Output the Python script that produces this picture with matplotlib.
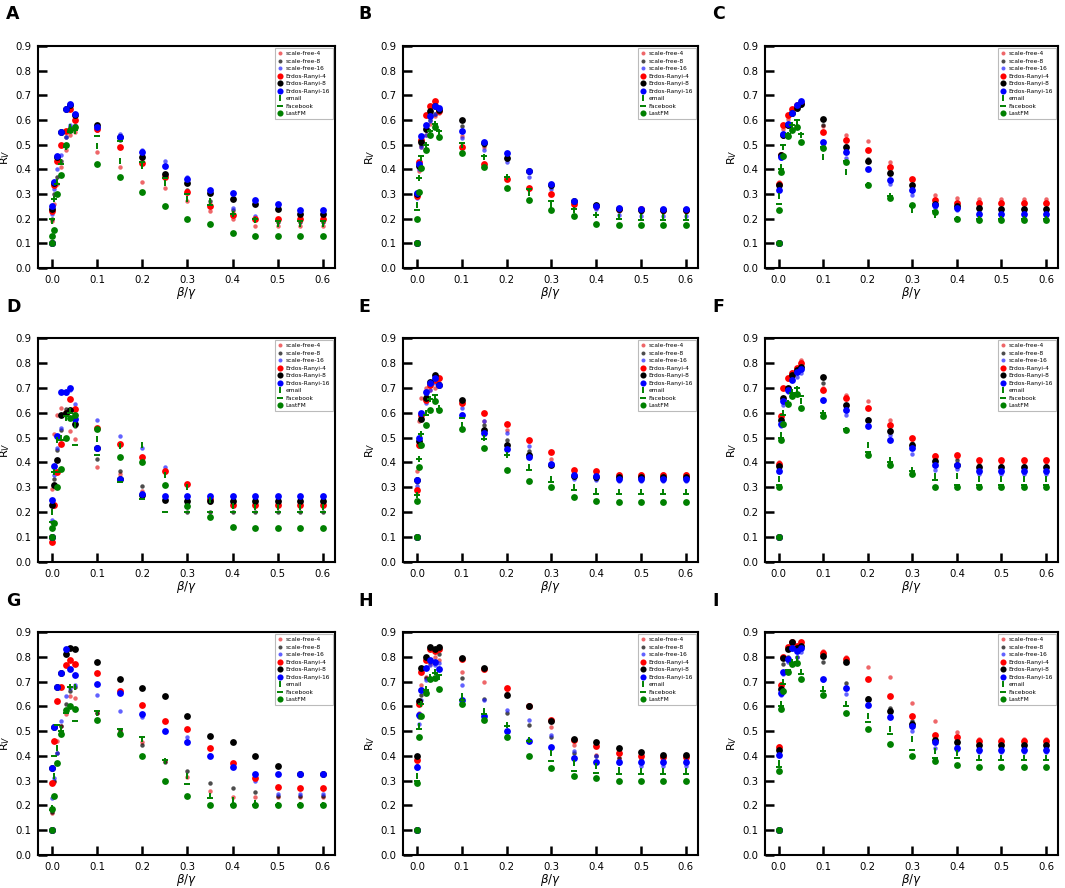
import matplotlib
matplotlib.use("Agg")
import matplotlib.pyplot as plt

X = [0, 0.001, 0.005, 0.01, 0.02, 0.03, 0.04, 0.05, 0.1, 0.15, 0.2, 0.25, 0.3, 0.35, 0.4, 0.45, 0.5, 0.55, 0.6]
SERIES = ["scale-free-4", "scale-free-8", "scale-free-16", "Erdos-Ranyi-4", "Erdos-Ranyi-8",
          "Erdos-Ranyi-16", "email", "Facebook", "LastFM"]
PANEL_LABELS = ["A", "B", "C", "D", "E", "F", "G", "H", "I"]
XTICKS = [0.0, 0.1, 0.2, 0.3, 0.4, 0.5, 0.6]
YTICKS = [0.0, 0.1, 0.2, 0.3, 0.4, 0.5, 0.6, 0.7, 0.8, 0.9]

A_sf4 = [0.1, 0.19, 0.26, 0.34, 0.41, 0.48, 0.54, 0.55, 0.47, 0.41, 0.35, 0.325, 0.27, 0.23, 0.20, 0.17, 0.17, 0.17, 0.17]
A_sf8 = [0.1, 0.20, 0.30, 0.37, 0.435, 0.53, 0.57, 0.57, 0.56, 0.52, 0.45, 0.38, 0.315, 0.27, 0.235, 0.20, 0.185, 0.185, 0.185]
A_sf16 = [0.1, 0.22, 0.32, 0.40, 0.46, 0.53, 0.58, 0.58, 0.565, 0.545, 0.48, 0.435, 0.37, 0.315, 0.245, 0.21, 0.195, 0.195, 0.195]
A_er4 = [0.1, 0.23, 0.335, 0.435, 0.50, 0.555, 0.645, 0.60, 0.565, 0.49, 0.425, 0.37, 0.31, 0.25, 0.215, 0.20, 0.20, 0.20, 0.20]
A_er8 = [0.1, 0.24, 0.345, 0.45, 0.55, 0.645, 0.66, 0.62, 0.58, 0.53, 0.45, 0.38, 0.345, 0.305, 0.28, 0.26, 0.24, 0.22, 0.22]
A_er16 = [0.1, 0.25, 0.35, 0.455, 0.55, 0.645, 0.665, 0.625, 0.57, 0.53, 0.47, 0.415, 0.36, 0.315, 0.305, 0.275, 0.26, 0.235, 0.235]
A_email = [0.1, 0.19, 0.28, 0.35, 0.43, 0.49, 0.57, 0.555, 0.495, 0.435, 0.415, 0.345, 0.28, 0.27, 0.22, 0.195, 0.18, 0.18, 0.18]
A_fb = [0.1, 0.20, 0.28, 0.34, 0.42, 0.49, 0.55, 0.56, 0.535, 0.515, 0.43, 0.365, 0.30, 0.255, 0.22, 0.20, 0.19, 0.19, 0.19]
A_lfm = [0.1, 0.13, 0.155, 0.30, 0.375, 0.50, 0.56, 0.57, 0.42, 0.37, 0.31, 0.25, 0.20, 0.18, 0.14, 0.13, 0.13, 0.13, 0.13]

B_sf4 = [0.1, 0.29, 0.395, 0.49, 0.54, 0.585, 0.615, 0.63, 0.535, 0.49, 0.36, 0.32, 0.30, 0.255, 0.245, 0.235, 0.23, 0.23, 0.23]
B_sf8 = [0.1, 0.295, 0.41, 0.50, 0.56, 0.60, 0.625, 0.64, 0.575, 0.50, 0.44, 0.39, 0.33, 0.265, 0.25, 0.23, 0.225, 0.225, 0.225]
B_sf16 = [0.1, 0.285, 0.40, 0.49, 0.54, 0.595, 0.625, 0.645, 0.525, 0.48, 0.43, 0.37, 0.32, 0.265, 0.24, 0.215, 0.21, 0.21, 0.21]
B_er4 = [0.1, 0.29, 0.43, 0.52, 0.62, 0.655, 0.675, 0.635, 0.49, 0.42, 0.36, 0.325, 0.30, 0.26, 0.25, 0.24, 0.24, 0.235, 0.235]
B_er8 = [0.1, 0.30, 0.415, 0.51, 0.565, 0.635, 0.655, 0.64, 0.60, 0.505, 0.445, 0.395, 0.335, 0.27, 0.255, 0.24, 0.235, 0.235, 0.235]
B_er16 = [0.1, 0.305, 0.42, 0.535, 0.58, 0.615, 0.655, 0.65, 0.555, 0.51, 0.465, 0.395, 0.34, 0.27, 0.25, 0.245, 0.24, 0.24, 0.24]
B_email = [0.1, 0.255, 0.365, 0.445, 0.50, 0.55, 0.585, 0.55, 0.50, 0.45, 0.37, 0.305, 0.255, 0.235, 0.215, 0.205, 0.205, 0.205, 0.205]
B_fb = [0.1, 0.235, 0.365, 0.455, 0.50, 0.555, 0.585, 0.555, 0.505, 0.455, 0.37, 0.32, 0.27, 0.24, 0.215, 0.20, 0.195, 0.195, 0.195]
B_lfm = [0.1, 0.20, 0.31, 0.405, 0.48, 0.54, 0.57, 0.53, 0.465, 0.41, 0.325, 0.275, 0.235, 0.21, 0.18, 0.175, 0.175, 0.175, 0.175]

C_sf4 = [0.1, 0.35, 0.46, 0.565, 0.605, 0.64, 0.655, 0.67, 0.575, 0.54, 0.515, 0.43, 0.36, 0.295, 0.285, 0.28, 0.28, 0.28, 0.28]
C_sf8 = [0.1, 0.34, 0.45, 0.535, 0.575, 0.625, 0.645, 0.66, 0.58, 0.495, 0.44, 0.395, 0.335, 0.26, 0.25, 0.235, 0.23, 0.23, 0.23]
C_sf16 = [0.1, 0.33, 0.445, 0.535, 0.58, 0.625, 0.655, 0.67, 0.50, 0.445, 0.40, 0.34, 0.295, 0.245, 0.235, 0.215, 0.21, 0.21, 0.21]
C_er4 = [0.1, 0.34, 0.46, 0.58, 0.62, 0.645, 0.66, 0.67, 0.55, 0.52, 0.48, 0.41, 0.36, 0.275, 0.265, 0.265, 0.265, 0.265, 0.265]
C_er8 = [0.1, 0.335, 0.46, 0.54, 0.58, 0.63, 0.65, 0.665, 0.605, 0.49, 0.435, 0.385, 0.335, 0.26, 0.25, 0.245, 0.24, 0.24, 0.24]
C_er16 = [0.1, 0.315, 0.45, 0.545, 0.585, 0.63, 0.66, 0.675, 0.51, 0.47, 0.40, 0.355, 0.315, 0.255, 0.245, 0.22, 0.22, 0.22, 0.22]
C_email = [0.1, 0.29, 0.41, 0.49, 0.54, 0.58, 0.59, 0.54, 0.45, 0.39, 0.335, 0.29, 0.235, 0.215, 0.20, 0.20, 0.20, 0.20, 0.20]
C_fb = [0.1, 0.26, 0.40, 0.50, 0.545, 0.58, 0.60, 0.545, 0.49, 0.435, 0.335, 0.29, 0.25, 0.23, 0.20, 0.20, 0.20, 0.20, 0.20]
C_lfm = [0.1, 0.235, 0.39, 0.455, 0.535, 0.56, 0.57, 0.51, 0.485, 0.43, 0.335, 0.285, 0.255, 0.225, 0.20, 0.195, 0.195, 0.195, 0.195]

D_sf4 = [0.1, 0.295, 0.515, 0.59, 0.62, 0.60, 0.525, 0.495, 0.38, 0.355, 0.285, 0.36, 0.315, 0.24, 0.23, 0.23, 0.23, 0.23, 0.23]
D_sf8 = [0.1, 0.16, 0.335, 0.45, 0.53, 0.615, 0.61, 0.545, 0.415, 0.365, 0.305, 0.25, 0.20, 0.20, 0.20, 0.20, 0.20, 0.20, 0.20]
D_sf16 = [0.1, 0.17, 0.35, 0.46, 0.54, 0.68, 0.69, 0.635, 0.57, 0.505, 0.46, 0.38, 0.31, 0.265, 0.265, 0.265, 0.265, 0.265, 0.265]
D_er4 = [0.1, 0.08, 0.23, 0.36, 0.475, 0.60, 0.655, 0.615, 0.54, 0.475, 0.42, 0.365, 0.315, 0.255, 0.23, 0.23, 0.23, 0.23, 0.23]
D_er8 = [0.1, 0.23, 0.31, 0.41, 0.59, 0.60, 0.61, 0.555, 0.46, 0.335, 0.27, 0.25, 0.245, 0.245, 0.245, 0.245, 0.245, 0.245, 0.245]
D_er16 = [0.1, 0.25, 0.385, 0.505, 0.685, 0.685, 0.70, 0.575, 0.46, 0.335, 0.275, 0.265, 0.265, 0.265, 0.265, 0.265, 0.265, 0.265, 0.265]
D_email = [0.1, 0.20, 0.36, 0.49, 0.50, 0.58, 0.605, 0.55, 0.495, 0.465, 0.47, 0.35, 0.30, 0.25, 0.225, 0.22, 0.22, 0.22, 0.22]
D_fb = [0.1, 0.16, 0.36, 0.36, 0.49, 0.585, 0.60, 0.47, 0.43, 0.32, 0.255, 0.20, 0.20, 0.20, 0.20, 0.20, 0.20, 0.20, 0.20]
D_lfm = [0.1, 0.135, 0.155, 0.30, 0.375, 0.50, 0.58, 0.59, 0.535, 0.42, 0.40, 0.31, 0.225, 0.18, 0.14, 0.135, 0.135, 0.135, 0.135]

E_sf4 = [0.1, 0.365, 0.565, 0.66, 0.70, 0.69, 0.70, 0.72, 0.595, 0.565, 0.53, 0.485, 0.415, 0.36, 0.36, 0.355, 0.355, 0.355, 0.355]
E_sf8 = [0.1, 0.32, 0.49, 0.58, 0.67, 0.72, 0.73, 0.715, 0.645, 0.55, 0.49, 0.445, 0.39, 0.34, 0.335, 0.33, 0.33, 0.33, 0.33]
E_sf16 = [0.1, 0.305, 0.465, 0.585, 0.64, 0.69, 0.72, 0.72, 0.62, 0.565, 0.52, 0.465, 0.39, 0.335, 0.33, 0.325, 0.325, 0.325, 0.325]
E_er4 = [0.1, 0.29, 0.47, 0.59, 0.65, 0.71, 0.73, 0.74, 0.64, 0.60, 0.555, 0.49, 0.44, 0.37, 0.365, 0.35, 0.35, 0.35, 0.35]
E_er8 = [0.1, 0.33, 0.485, 0.575, 0.66, 0.725, 0.75, 0.71, 0.65, 0.53, 0.47, 0.43, 0.39, 0.345, 0.34, 0.34, 0.34, 0.34, 0.34]
E_er16 = [0.1, 0.33, 0.50, 0.60, 0.685, 0.72, 0.74, 0.71, 0.59, 0.52, 0.455, 0.42, 0.395, 0.35, 0.345, 0.335, 0.335, 0.335, 0.335]
E_email = [0.1, 0.27, 0.415, 0.515, 0.60, 0.655, 0.66, 0.62, 0.55, 0.50, 0.43, 0.38, 0.335, 0.30, 0.285, 0.28, 0.28, 0.28, 0.28]
E_fb = [0.1, 0.27, 0.415, 0.515, 0.59, 0.655, 0.67, 0.615, 0.58, 0.495, 0.43, 0.37, 0.32, 0.29, 0.275, 0.275, 0.275, 0.275, 0.275]
E_lfm = [0.1, 0.245, 0.38, 0.47, 0.55, 0.61, 0.645, 0.61, 0.535, 0.46, 0.37, 0.325, 0.30, 0.26, 0.245, 0.24, 0.24, 0.24, 0.24]

F_sf4 = [0.1, 0.40, 0.59, 0.70, 0.735, 0.765, 0.78, 0.81, 0.70, 0.67, 0.645, 0.57, 0.50, 0.43, 0.42, 0.40, 0.40, 0.40, 0.40]
F_sf8 = [0.1, 0.38, 0.565, 0.655, 0.695, 0.745, 0.765, 0.79, 0.72, 0.625, 0.575, 0.53, 0.48, 0.40, 0.41, 0.39, 0.385, 0.385, 0.385]
F_sf16 = [0.1, 0.365, 0.545, 0.63, 0.685, 0.73, 0.745, 0.76, 0.645, 0.59, 0.545, 0.51, 0.435, 0.37, 0.375, 0.355, 0.355, 0.355, 0.355]
F_er4 = [0.1, 0.395, 0.585, 0.70, 0.74, 0.76, 0.78, 0.80, 0.69, 0.66, 0.62, 0.55, 0.50, 0.425, 0.43, 0.41, 0.41, 0.41, 0.41]
F_er8 = [0.1, 0.385, 0.57, 0.66, 0.70, 0.75, 0.77, 0.785, 0.745, 0.63, 0.57, 0.525, 0.47, 0.405, 0.39, 0.38, 0.38, 0.38, 0.38]
F_er16 = [0.1, 0.365, 0.555, 0.645, 0.69, 0.73, 0.765, 0.775, 0.65, 0.61, 0.545, 0.49, 0.46, 0.39, 0.39, 0.365, 0.365, 0.365, 0.365]
F_email = [0.1, 0.335, 0.51, 0.60, 0.64, 0.685, 0.695, 0.645, 0.60, 0.53, 0.47, 0.41, 0.37, 0.345, 0.345, 0.335, 0.335, 0.335, 0.335]
F_fb = [0.1, 0.31, 0.50, 0.59, 0.64, 0.68, 0.70, 0.665, 0.60, 0.535, 0.44, 0.40, 0.365, 0.33, 0.31, 0.31, 0.31, 0.31, 0.31]
F_lfm = [0.1, 0.30, 0.49, 0.555, 0.635, 0.665, 0.675, 0.62, 0.585, 0.53, 0.43, 0.39, 0.355, 0.30, 0.30, 0.30, 0.30, 0.30, 0.30]

G_sf4 = [0.1, 0.17, 0.295, 0.46, 0.52, 0.57, 0.64, 0.635, 0.575, 0.50, 0.455, 0.38, 0.315, 0.26, 0.235, 0.235, 0.235, 0.235, 0.235]
G_sf8 = [0.1, 0.175, 0.30, 0.41, 0.52, 0.61, 0.66, 0.68, 0.575, 0.505, 0.445, 0.375, 0.34, 0.29, 0.27, 0.255, 0.24, 0.24, 0.24]
G_sf16 = [0.1, 0.23, 0.31, 0.41, 0.54, 0.64, 0.675, 0.685, 0.645, 0.58, 0.555, 0.50, 0.475, 0.405, 0.355, 0.30, 0.245, 0.245, 0.245]
G_er4 = [0.1, 0.29, 0.46, 0.62, 0.68, 0.765, 0.785, 0.77, 0.735, 0.66, 0.605, 0.54, 0.51, 0.43, 0.37, 0.31, 0.275, 0.27, 0.27]
G_er8 = [0.1, 0.35, 0.515, 0.68, 0.735, 0.81, 0.835, 0.83, 0.78, 0.71, 0.675, 0.64, 0.56, 0.48, 0.455, 0.40, 0.36, 0.325, 0.325]
G_er16 = [0.1, 0.35, 0.515, 0.68, 0.735, 0.83, 0.75, 0.725, 0.69, 0.655, 0.57, 0.50, 0.455, 0.40, 0.355, 0.325, 0.325, 0.325, 0.325]
G_email = [0.1, 0.19, 0.32, 0.43, 0.51, 0.58, 0.68, 0.68, 0.575, 0.50, 0.47, 0.38, 0.32, 0.24, 0.22, 0.21, 0.20, 0.20, 0.20]
G_fb = [0.1, 0.18, 0.40, 0.525, 0.50, 0.575, 0.68, 0.54, 0.58, 0.51, 0.475, 0.385, 0.285, 0.23, 0.20, 0.20, 0.20, 0.20, 0.20]
G_lfm = [0.1, 0.185, 0.24, 0.37, 0.49, 0.585, 0.60, 0.59, 0.545, 0.49, 0.40, 0.30, 0.24, 0.20, 0.20, 0.20, 0.20, 0.20, 0.20]

H_sf4 = [0.1, 0.36, 0.575, 0.685, 0.72, 0.77, 0.80, 0.785, 0.74, 0.70, 0.655, 0.605, 0.515, 0.445, 0.405, 0.39, 0.385, 0.385, 0.385]
H_sf8 = [0.1, 0.36, 0.555, 0.645, 0.715, 0.78, 0.78, 0.81, 0.715, 0.63, 0.575, 0.525, 0.475, 0.41, 0.40, 0.39, 0.39, 0.39, 0.39]
H_sf16 = [0.1, 0.35, 0.53, 0.625, 0.705, 0.765, 0.765, 0.775, 0.685, 0.625, 0.585, 0.545, 0.485, 0.42, 0.40, 0.37, 0.36, 0.36, 0.36]
H_er4 = [0.1, 0.385, 0.61, 0.74, 0.785, 0.83, 0.825, 0.83, 0.79, 0.75, 0.675, 0.60, 0.545, 0.465, 0.44, 0.41, 0.40, 0.395, 0.395]
H_er8 = [0.1, 0.40, 0.62, 0.755, 0.80, 0.84, 0.83, 0.84, 0.795, 0.755, 0.645, 0.60, 0.54, 0.47, 0.455, 0.43, 0.415, 0.405, 0.405]
H_er16 = [0.1, 0.355, 0.565, 0.665, 0.755, 0.785, 0.78, 0.75, 0.625, 0.56, 0.50, 0.46, 0.435, 0.39, 0.375, 0.375, 0.375, 0.375, 0.375]
H_email = [0.1, 0.32, 0.52, 0.61, 0.67, 0.72, 0.74, 0.72, 0.64, 0.58, 0.525, 0.465, 0.41, 0.37, 0.36, 0.345, 0.34, 0.34, 0.34]
H_fb = [0.1, 0.30, 0.51, 0.61, 0.665, 0.71, 0.735, 0.725, 0.625, 0.57, 0.52, 0.46, 0.38, 0.34, 0.33, 0.325, 0.325, 0.325, 0.325]
H_lfm = [0.1, 0.29, 0.475, 0.56, 0.655, 0.71, 0.715, 0.67, 0.61, 0.545, 0.475, 0.40, 0.35, 0.32, 0.31, 0.30, 0.30, 0.30, 0.30]

I_sf4 = [0.1, 0.44, 0.69, 0.80, 0.835, 0.865, 0.845, 0.855, 0.825, 0.80, 0.76, 0.72, 0.615, 0.54, 0.495, 0.47, 0.47, 0.47, 0.47]
I_sf8 = [0.1, 0.43, 0.665, 0.77, 0.80, 0.855, 0.80, 0.84, 0.78, 0.695, 0.635, 0.595, 0.54, 0.46, 0.45, 0.44, 0.44, 0.44, 0.44]
I_sf16 = [0.1, 0.405, 0.645, 0.73, 0.78, 0.83, 0.80, 0.82, 0.705, 0.65, 0.605, 0.565, 0.50, 0.43, 0.425, 0.415, 0.415, 0.415, 0.415]
I_er4 = [0.1, 0.435, 0.685, 0.80, 0.84, 0.86, 0.845, 0.86, 0.815, 0.79, 0.71, 0.64, 0.56, 0.485, 0.475, 0.46, 0.46, 0.46, 0.46]
I_er8 = [0.1, 0.425, 0.67, 0.795, 0.83, 0.86, 0.835, 0.845, 0.805, 0.78, 0.63, 0.58, 0.53, 0.465, 0.455, 0.445, 0.445, 0.445, 0.445]
I_er16 = [0.1, 0.405, 0.655, 0.74, 0.79, 0.835, 0.825, 0.835, 0.71, 0.675, 0.605, 0.555, 0.52, 0.455, 0.43, 0.425, 0.425, 0.425, 0.425]
I_email = [0.1, 0.37, 0.61, 0.70, 0.74, 0.78, 0.79, 0.74, 0.67, 0.61, 0.56, 0.51, 0.47, 0.42, 0.41, 0.39, 0.39, 0.39, 0.39]
I_fb = [0.1, 0.355, 0.60, 0.69, 0.745, 0.775, 0.78, 0.73, 0.66, 0.60, 0.535, 0.49, 0.425, 0.39, 0.39, 0.385, 0.385, 0.385, 0.385]
I_lfm = [0.1, 0.34, 0.59, 0.66, 0.74, 0.77, 0.775, 0.71, 0.645, 0.575, 0.51, 0.45, 0.40, 0.38, 0.365, 0.355, 0.355, 0.355, 0.355]

PANELS = [
    [A_sf4, A_sf8, A_sf16, A_er4, A_er8, A_er16, A_email, A_fb, A_lfm],
    [B_sf4, B_sf8, B_sf16, B_er4, B_er8, B_er16, B_email, B_fb, B_lfm],
    [C_sf4, C_sf8, C_sf16, C_er4, C_er8, C_er16, C_email, C_fb, C_lfm],
    [D_sf4, D_sf8, D_sf16, D_er4, D_er8, D_er16, D_email, D_fb, D_lfm],
    [E_sf4, E_sf8, E_sf16, E_er4, E_er8, E_er16, E_email, E_fb, E_lfm],
    [F_sf4, F_sf8, F_sf16, F_er4, F_er8, F_er16, F_email, F_fb, F_lfm],
    [G_sf4, G_sf8, G_sf16, G_er4, G_er8, G_er16, G_email, G_fb, G_lfm],
    [H_sf4, H_sf8, H_sf16, H_er4, H_er8, H_er16, H_email, H_fb, H_lfm],
    [I_sf4, I_sf8, I_sf16, I_er4, I_er8, I_er16, I_email, I_fb, I_lfm],
]

STYLES = [
    dict(marker="o", color="#e8262a", ms=3.2, alpha=0.7, mew=0),
    dict(marker="o", color="black", ms=3.2, alpha=0.7, mew=0),
    dict(marker="o", color="#1f1fff", ms=3.2, alpha=0.7, mew=0),
    dict(marker="o", color="red", ms=4.9, mew=0),
    dict(marker="o", color="black", ms=4.9, mew=0),
    dict(marker="o", color="blue", ms=4.9, mew=0),
    dict(marker="|", color="green", ms=4.5, mew=1.4),
    dict(marker="_", color="green", ms=4.5, mew=1.4),
    dict(marker="o", color="green", ms=4.9, mew=0),
]

W, H = 1065, 888
fig = plt.figure(figsize=(W / 100, H / 100), dpi=100)

cols = [(38, 335), (403, 698), (765, 1058)]
rows = [(46, 268), (338, 562), (632, 855)]
letter_x = [6, 358, 712]
letter_rows = [19, 312, 606]

for idx, data in enumerate(PANELS):
    r, c = divmod(idx, 3)
    l, rgt = cols[c]
    t, b = rows[r]
    ax = fig.add_axes([l / W, 1 - b / H, (rgt - l) / W, (b - t) / H])
    for name, ys, st in zip(SERIES, data, STYLES):
        ax.plot(X, ys, linestyle="none", label=name, **st)
    ax.set_ylim(0, 0.9)
    ax.set_xlim(-0.031, 0.627)
    ax.set_xticks(XTICKS)
    ax.set_xticklabels([f"{v:.1f}" for v in XTICKS])
    ax.set_yticks(YTICKS)
    ax.set_yticklabels([f"{v:.1f}" for v in YTICKS])
    ax.tick_params(direction="in", length=6.5, width=1.8, labelsize=7.3, pad=5)
    for sp in ax.spines.values():
        sp.set_linewidth(1.5)
    ax.set_ylabel(r"R$_V$", fontsize=8, labelpad=2)
    ax.set_xlabel(r"$\beta/\gamma$", fontsize=8.5, labelpad=0)
    leg = ax.legend(loc="upper right", fontsize=4.2, labelspacing=0.42, borderpad=0.5,
                    handletextpad=0.4, handlelength=1.0, borderaxespad=0.35,
                    markerscale=0.9, fancybox=False, framealpha=1)
    leg.get_frame().set_edgecolor("#bbbbbb")
    leg.get_frame().set_linewidth(0.8)
    fig.text(letter_x[c] / W, 1 - letter_rows[r] / H, PANEL_LABELS[idx], fontsize=12.5,
             fontweight="bold", ha="left", va="baseline")

fig.savefig("out.png", dpi=100)
